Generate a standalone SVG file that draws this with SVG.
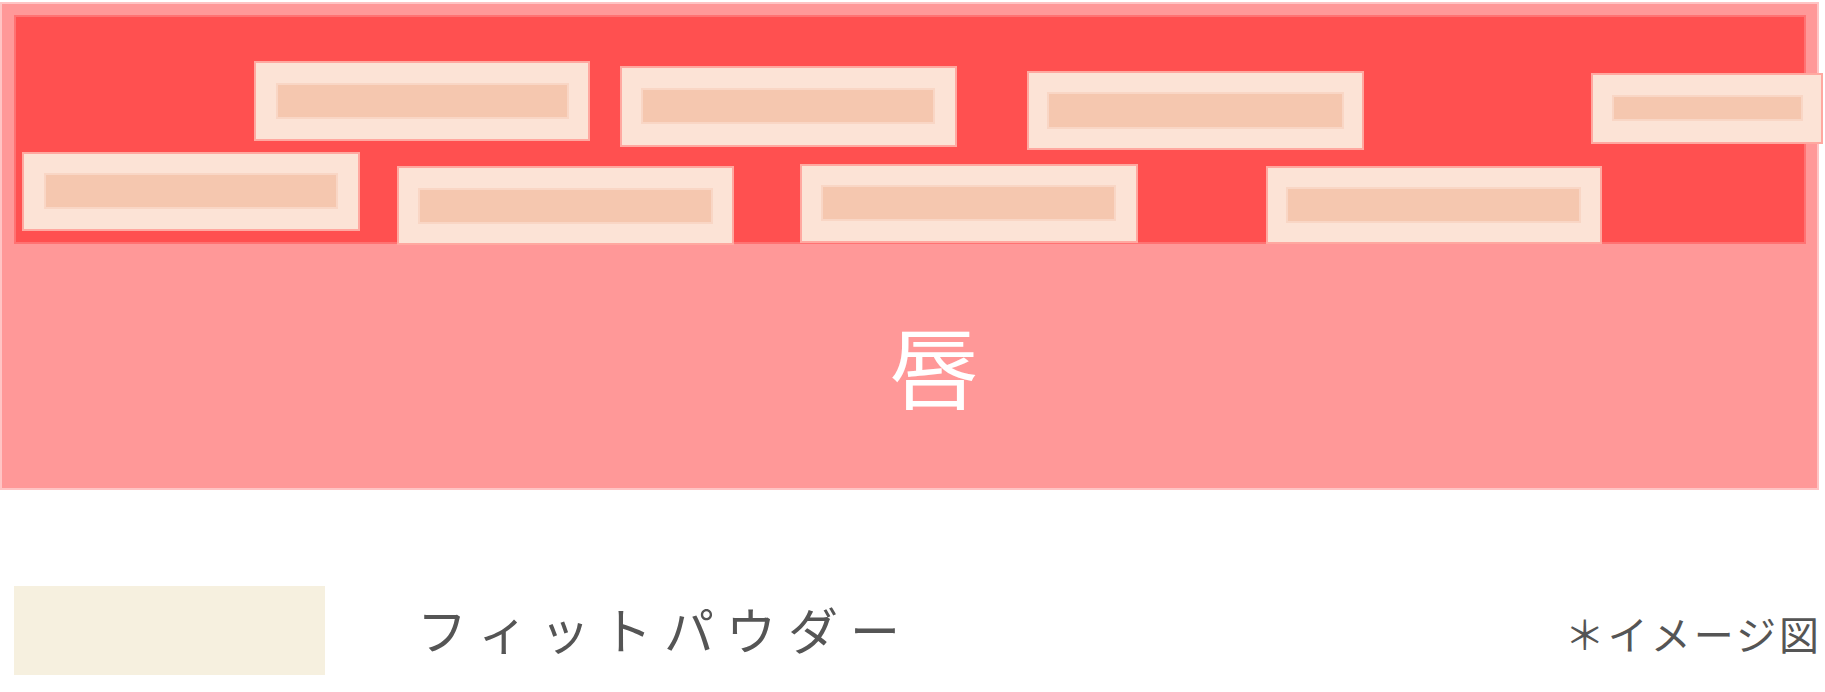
<svg xmlns="http://www.w3.org/2000/svg" width="1825" height="692" viewBox="0 0 1825 692">
<style>
.pink{fill:#FF9898;stroke:#FFC4C4;stroke-width:2}
.red{fill:#FF5050;stroke:#FF7272;stroke-width:2}
.particle{fill:#FCE3D6;stroke:#FFA8A0;stroke-width:2}
.core{fill:#F5C7AF;stroke:#F9D6C5;stroke-width:2}
.lbl{font-family:"Noto Sans CJK JP","Noto Sans",sans-serif;fill:#555555}
</style>
<rect width="1825" height="692" fill="#FFFFFF"/>
<g id="lip">
<rect class="pink" x="1" y="3" width="1817" height="486"/>
<rect class="red" x="15" y="16" width="1790" height="227"/>
<text x="934" y="402" text-anchor="middle" font-family="'Noto Sans CJK JP','Noto Sans',sans-serif" font-size="90" fill="#FFFFFF">唇</text>
</g>
<g id="powder-a"><rect class="particle" x="23" y="153" width="336" height="77"/><rect class="core" x="45" y="174" width="292" height="34"/></g>
<g id="powder-b"><rect class="particle" x="255" y="62" width="334" height="78"/><rect class="core" x="277" y="84" width="291" height="34"/></g>
<g id="powder-c"><rect class="particle" x="398" y="167" width="335" height="77"/><rect class="core" x="419" y="189" width="293" height="34"/></g>
<g id="powder-d"><rect class="particle" x="621" y="67" width="335" height="79"/><rect class="core" x="642" y="89" width="292" height="34"/></g>
<g id="powder-e"><rect class="particle" x="801" y="165" width="336" height="77"/><rect class="core" x="822" y="186" width="293" height="34"/></g>
<g id="powder-f"><rect class="particle" x="1028" y="72" width="335" height="77"/><rect class="core" x="1048" y="93" width="295" height="35"/></g>
<g id="powder-g"><rect class="particle" x="1267" y="167" width="334" height="76"/><rect class="core" x="1287" y="188" width="293" height="34"/></g>
<g id="powder-h"><rect class="particle" x="1592" y="74" width="230" height="69"/><rect class="core" x="1613" y="96" width="189" height="24"/></g>
<g id="connectors"></g>
<g id="legend">
<rect x="14" y="586" width="311" height="89" fill="#F6F0DF"/>
<text class="lbl" x="417" y="650" font-size="50" letter-spacing="12">フィットパウダー</text>
</g>
<g id="note">
<text class="lbl" x="1822" y="650" font-size="40" letter-spacing="3" text-anchor="end">＊イメージ図</text>
</g>
</svg>
